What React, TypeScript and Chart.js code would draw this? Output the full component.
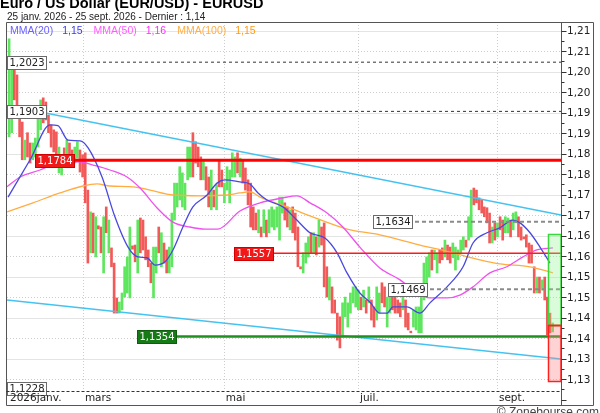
import React, { useEffect, useRef } from 'react';
import { Chart, registerables } from 'chart.js';

Chart.register(...registerables);

// ---- OHLC-style high/low bars (index = trading day) ----
const highs = [
  1.2080, 1.2024, 1.2009, 1.1992, 1.1887, 1.1877, 1.1833, 1.1851, 1.1826, 1.1826,
  1.1838, 1.1890, 1.1931, 1.1936, 1.1926, 1.1894, 1.1870, 1.1858, 1.1853, 1.1816,
  1.1789, 1.1814, 1.1833, 1.1826, 1.1809, 1.1816, 1.1829, 1.1809, 1.1797, 1.1802,
  1.1711, 1.1658, 1.1655, 1.1646, 1.1624, 1.1621, 1.1646, 1.1670, 1.1638, 1.1570,
  1.1533, 1.1448, 1.1438, 1.1460, 1.1524, 1.1548, 1.1621, 1.1575, 1.1577, 1.1638,
  1.1643, 1.1638, 1.1597, 1.1565, 1.1533, 1.1572, 1.1572, 1.1621, 1.1607, 1.1582,
  1.1565, 1.1572, 1.1655, 1.1728, 1.1728, 1.1768, 1.1753, 1.1728, 1.1816, 1.1816,
  1.1851, 1.1829, 1.1816, 1.1792, 1.1785, 1.1768, 1.1743, 1.1760, 1.1711, 1.1724,
  1.1785, 1.1760, 1.1728, 1.1768, 1.1760, 1.1802, 1.1792, 1.1802, 1.1789, 1.1785,
  1.1765, 1.1736, 1.1728, 1.1670, 1.1655, 1.1663, 1.1621, 1.1663, 1.1638, 1.1663,
  1.1670, 1.1663, 1.1670, 1.1694, 1.1694, 1.1680, 1.1670, 1.1663, 1.1670, 1.1655,
  1.1621, 1.1524, 1.1558, 1.1582, 1.1597, 1.1607, 1.1607, 1.1597, 1.1638, 1.1621,
  1.1631, 1.1524, 1.1499, 1.1475, 1.1443, 1.1411, 1.1402, 1.1436, 1.1450, 1.1436,
  1.1460, 1.1475, 1.1475, 1.1467, 1.1450, 1.1467, 1.1443, 1.1475, 1.1443, 1.1426,
  1.1475, 1.1460, 1.1485, 1.1475, 1.1450, 1.1460, 1.1460, 1.1450, 1.1443, 1.1436,
  1.1460, 1.1443, 1.1411, 1.1367, 1.1419, 1.1426, 1.1426, 1.1467, 1.1533, 1.1548,
  1.1558, 1.1565, 1.1565, 1.1558, 1.1565, 1.1570, 1.1589, 1.1577, 1.1572, 1.1582,
  1.1572, 1.1565, 1.1589, 1.1597, 1.1589, 1.1646, 1.1711, 1.1716, 1.1711, 1.1692,
  1.1687, 1.1670, 1.1668, 1.1655, 1.1621, 1.1631, 1.1631, 1.1646, 1.1638, 1.1646,
  1.1643, 1.1638, 1.1655, 1.1658, 1.1646, 1.1621, 1.1597, 1.1602, 1.1582, 1.1577,
  1.1524, 1.1499, 1.1499, 1.1492, 1.1499, 1.1450, 1.1411, 1.1387,
];

const lows = [
  1.1841, 1.1851, 1.1931, 1.1914, 1.1841, 1.1785, 1.1785, 1.1792, 1.1777, 1.1785,
  1.1792, 1.1816, 1.1858, 1.1875, 1.1882, 1.1851, 1.1816, 1.1804, 1.1768, 1.1753,
  1.1748, 1.1772, 1.1785, 1.1777, 1.1768, 1.1777, 1.1789, 1.1755, 1.1743, 1.1680,
  1.1533, 1.1558, 1.1558, 1.1548, 1.1616, 1.1558, 1.1509, 1.1607, 1.1558, 1.1524,
  1.1411, 1.1411, 1.1411, 1.1419, 1.1450, 1.1460, 1.1448, 1.1567, 1.1536, 1.1509,
  1.1558, 1.1565, 1.1541, 1.1524, 1.1485, 1.1448, 1.1509, 1.1558, 1.1524, 1.1533,
  1.1509, 1.1509, 1.1524, 1.1638, 1.1670, 1.1687, 1.1670, 1.1663, 1.1736, 1.1743,
  1.1743, 1.1777, 1.1768, 1.1736, 1.1736, 1.1711, 1.1670, 1.1663, 1.1670, 1.1663,
  1.1719, 1.1719, 1.1680, 1.1711, 1.1680, 1.1743, 1.1743, 1.1753, 1.1743, 1.1728,
  1.1711, 1.1675, 1.1621, 1.1614, 1.1614, 1.1607, 1.1597, 1.1607, 1.1597, 1.1607,
  1.1621, 1.1614, 1.1621, 1.1589, 1.1655, 1.1638, 1.1621, 1.1614, 1.1607, 1.1589,
  1.1524, 1.1519, 1.1509, 1.1533, 1.1548, 1.1558, 1.1558, 1.1553, 1.1572, 1.1577,
  1.1475, 1.1450, 1.1443, 1.1411, 1.1411, 1.1345, 1.1326, 1.1353, 1.1402, 1.1377,
  1.1411, 1.1436, 1.1426, 1.1419, 1.1419, 1.1426, 1.1411, 1.1436, 1.1394, 1.1377,
  1.1394, 1.1411, 1.1436, 1.1426, 1.1377, 1.1411, 1.1419, 1.1411, 1.1411, 1.1402,
  1.1419, 1.1377, 1.1370, 1.1363, 1.1377, 1.1370, 1.1363, 1.1363, 1.1443, 1.1467,
  1.1499, 1.1516, 1.1541, 1.1509, 1.1533, 1.1541, 1.1548, 1.1541, 1.1533, 1.1546,
  1.1516, 1.1541, 1.1558, 1.1565, 1.1572, 1.1589, 1.1597, 1.1675, 1.1680, 1.1663,
  1.1655, 1.1646, 1.1631, 1.1582, 1.1582, 1.1589, 1.1597, 1.1614, 1.1589, 1.1607,
  1.1607, 1.1597, 1.1614, 1.1631, 1.1597, 1.1589, 1.1592, 1.1572, 1.1533, 1.1533,
  1.1460, 1.1460, 1.1460, 1.1467, 1.1443, 1.1358, 1.1363, 1.1365,
];

// 1 = up bar (green), 0 = down bar (red)
const ups = [
  1, 1, 0, 0, 0, 0, 1, 0, 0, 1,
  1, 1, 1, 0, 0, 0, 0, 0, 0, 1,
  1, 0, 1, 0, 0, 1, 1, 0, 0, 0,
  0, 1, 0, 1, 0, 0, 1, 0, 1, 0,
  0, 0, 1, 1, 1, 1, 1, 0, 0, 1,
  0, 0, 0, 0, 0, 1, 1, 0, 1, 0,
  0, 1, 1, 1, 1, 1, 1, 1, 1, 1,
  0, 0, 0, 0, 1, 0, 0, 1, 0, 1,
  0, 0, 1, 1, 1, 1, 1, 0, 1, 0,
  0, 0, 0, 0, 0, 1, 0, 1, 0, 1,
  1, 1, 1, 1, 1, 0, 0, 1, 0, 0,
  0, 0, 1, 1, 1, 0, 1, 0, 1, 0,
  0, 0, 1, 0, 0, 0, 0, 1, 1, 1,
  1, 1, 1, 1, 0, 1, 0, 1, 0, 0,
  1, 1, 0, 0, 1, 1, 0, 0, 0, 0,
  1, 0, 0, 0, 1, 1, 1, 1, 1, 1,
  1, 0, 1, 1, 0, 0, 1, 0, 0, 1,
  1, 1, 1, 1, 0, 1, 1, 0, 0, 0,
  0, 0, 0, 0, 1, 0, 1, 0, 0, 1,
  1, 0, 1, 1, 0, 0, 0, 0, 0, 0,
  0, 1, 0, 1, 0, 0, 0, 1,
];

// ---- Moving averages ----
const ma20Idx = [-0.4, 8.0, 15.6, 18.6, 22.4, 27.0, 30.1, 35.4, 40.3, 45.3, 49.1, 52.5, 55.6, 59.4, 62.4, 66.2, 70.0, 75.4, 79.2, 82.2, 87.9, 91.7, 94.8, 98.2, 104.3, 109.6, 114.6, 120.3, 124.9, 128.7, 133.6, 137.4, 141.2, 143.9, 146.2, 151.5, 156.5, 160.3, 166.8, 172.9, 176.7, 182.0, 186.9, 191.9, 194.6, 198.4, 202.2, 206.0];
const ma20Val = [1.1694, 1.1785, 1.1870, 1.1868, 1.1833, 1.1831, 1.1814, 1.1743, 1.1646, 1.1572, 1.1548, 1.1546, 1.1528, 1.1536, 1.1565, 1.1621, 1.1670, 1.1699, 1.1728, 1.1736, 1.1731, 1.1726, 1.1704, 1.1687, 1.1670, 1.1638, 1.1607, 1.1594, 1.1558, 1.1509, 1.1460, 1.1438, 1.1411, 1.1411, 1.1426, 1.1426, 1.1411, 1.1436, 1.1475, 1.1524, 1.1582, 1.1607, 1.1619, 1.1638, 1.1631, 1.1607, 1.1572, 1.1533];

const ma50Idx = [-0.8, 4.2, 11.8, 18.2, 27.0, 32.0, 38.4, 44.9, 49.9, 56.3, 62.4, 68.9, 74.6, 79.5, 87.9, 95.6, 104.3, 109.6, 114.6, 121.1, 127.1, 133.6, 141.2, 148.9, 155.3, 160.3, 166.8, 171.7, 176.7, 183.1, 189.6, 195.7, 201.0, 207.1];
const ma50Val = [1.1719, 1.1743, 1.1760, 1.1777, 1.1780, 1.1772, 1.1760, 1.1743, 1.1716, 1.1668, 1.1633, 1.1621, 1.1616, 1.1616, 1.1660, 1.1680, 1.1692, 1.1697, 1.1680, 1.1655, 1.1621, 1.1572, 1.1521, 1.1492, 1.1460, 1.1448, 1.1448, 1.1455, 1.1475, 1.1509, 1.1524, 1.1548, 1.1565, 1.1570];

const ma100Idx = [-0.8, 9.1, 19.4, 28.1, 33.5, 38.4, 47.2, 53.7, 62.4, 72.7, 83.0, 87.9, 91.7, 95.6, 100.5, 105.8, 114.6, 128.7, 141.2, 156.5, 167.9, 179.3, 186.9, 198.4, 207.1];
const ma100Val = [1.1658, 1.1680, 1.1704, 1.1721, 1.1726, 1.1721, 1.1719, 1.1711, 1.1699, 1.1697, 1.1699, 1.1704, 1.1707, 1.1694, 1.1682, 1.1670, 1.1648, 1.1616, 1.1602, 1.1577, 1.1560, 1.1541, 1.1531, 1.1524, 1.1509];

const legendNames = ['MMA(20)', 'MMA(50)', 'MMA(100)'];
const legendValues = ['1,15', '1,16', '1,15'];

// ---- Trend channel ----
const trendUpperIdx = [0.3, 210.2];
const trendUpperVal = [1.1916, 1.1650];
const trendLowerIdx = [-0.8, 210.2];
const trendLowerVal = [1.1443, 1.1299];

// ---- Horizontal levels ----
const levelValues = [1.2023, 1.1903, 1.1784, 1.1634, 1.1557, 1.1469, 1.1354, 1.1228];
const levelLabels = ['1,2023', '1,1903', '1,1784', '1,1634', '1,1557', '1,1469', '1,1354', '1,1228'];
const levelStart = [-0.8, -0.8, 9.9, 138.6, 85.6, 144.3, 48.7, -0.8];
const levelKinds = ['high', 'high', 'majorRes', 'pivot', 'minorRes', 'pivot', 'support', 'low'];

// ---- Target zones at the right ----
const zoneStartIdx = 205.2;
const zoneTop = 1.1603;
const zoneNow = 1.1382;
const zoneBottom = 1.1246;

// ---- Axes ----
const monthLabels = ['2026janv.', 'mars', 'mai', 'juil.', 'sept.'];
const monthIdx = [-0.8, 28.1, 81.8, 132.9, 185.8];
const yTicks = [1.21, 1.205, 1.2, 1.195, 1.19, 1.185, 1.18, 1.175, 1.17, 1.165, 1.16, 1.155, 1.15, 1.145, 1.14, 1.135, 1.13, 1.125];
const yTickLabels = ['1,21', '1,21', '1,20', '1,20', '1,19', '1,19', '1,18', '1,18', '1,17', '1,17', '1,16', '1,16', '1,15', '1,15', '1,14', '1,14', '1,13', '1,13'];

const TITLE = 'Euro / US Dollar (EUR/USD) - EURUSD';
const SUBTITLE = '25 janv. 2026 - 25 sept. 2026 - Dernier : 1,14';
const COPYRIGHT = '\u00a9 Zonebourse.com';

const X_MIN = -0.8;
const X_MAX = 210.2;
const Y_MIN = 1.1221;
const Y_MAX = 1.2121;

const GREEN = '#5ee65e';
const RED = '#f25a5a';
const MA_COLORS = ['#4848e0', '#f050f0', '#ffad40'];
const LEGEND_NAME_COLORS = ['#6a62ff', '#ff5cff', '#ffae48'];
const LEGEND_VALUE_COLORS = ['#3a3aee', '#ff2cff', '#ff9a10'];
const CYAN = '#45c3f0';

function levelStyle(kind: string) {
  switch (kind) {
    case 'high': return { color: '#333333', width: 1, dash: [3, 3] };
    case 'majorRes': return { color: '#ff0000', width: 3, dash: [] as number[] };
    case 'minorRes': return { color: '#ff1a1a', width: 1.5, dash: [] as number[] };
    case 'pivot': return { color: '#8a8a8a', width: 2, dash: [4, 3] };
    case 'support': return { color: '#1f8f1f', width: 2.5, dash: [] as number[] };
    default: return null;
  }
}

function hline(ctx: CanvasRenderingContext2D, x1: number, x2: number, y: number) {
  ctx.beginPath(); ctx.moveTo(x1, y); ctx.lineTo(x2, y); ctx.stroke();
}
function vline(ctx: CanvasRenderingContext2D, x: number, y1: number, y2: number) {
  ctx.beginPath(); ctx.moveTo(x, y1); ctx.lineTo(x, y2); ctx.stroke();
}

const decorPlugin = {
  id: 'zbDecor',
  beforeDraw(chart: any) {
    const { ctx, width, height } = chart;
    ctx.save();
    ctx.fillStyle = '#ffffff';
    ctx.fillRect(0, 0, width, height);
    ctx.restore();
  },
  beforeDatasetsDraw(chart: any) {
    const { ctx, chartArea: a, scales } = chart;
    const xs = scales.x, ys = scales.y;
    ctx.save();
    ctx.lineWidth = 1;
    yTicks.forEach((v, k) => {
      const py = Math.round(ys.getPixelForValue(v)) + 0.5;
      if (k % 2 === 0) { ctx.strokeStyle = '#e4e4e4'; ctx.setLineDash([]); }
      else { ctx.strokeStyle = '#cdcdcd'; ctx.setLineDash([1, 2]); }
      hline(ctx, a.left, a.right, py);
    });
    ctx.strokeStyle = '#cdcdcd';
    ctx.setLineDash([1, 2]);
    monthIdx.slice(1).forEach((m) => {
      const px = Math.round(xs.getPixelForValue(m)) + 0.5;
      vline(ctx, px, a.top, a.bottom);
    });
    ctx.restore();
  },
  afterDatasetsDraw(chart: any) {
    const { ctx, chartArea: a, scales } = chart;
    const xs = scales.x, ys = scales.y;
    ctx.save();
    // target zones
    const zx = Math.round(xs.getPixelForValue(zoneStartIdx)) + 0.5;
    const zr = a.right;
    const yt = Math.round(ys.getPixelForValue(zoneTop)) + 0.5;
    const ym = Math.round(ys.getPixelForValue(zoneNow)) + 0.5;
    const yb = Math.round(ys.getPixelForValue(zoneBottom)) + 0.5;
    ctx.fillStyle = 'rgba(140, 245, 140, 0.32)';
    ctx.fillRect(zx, yt, zr - zx, ym - yt);
    ctx.fillStyle = 'rgba(255, 130, 130, 0.35)';
    ctx.fillRect(zx, ym, zr - zx, yb - ym);
    ctx.lineWidth = 1.5;
    ctx.strokeStyle = '#3ad83a';
    ctx.strokeRect(zx, yt, zr - zx, ym - yt);
    ctx.strokeStyle = '#ff2020';
    ctx.strokeRect(zx, ym, zr - zx, yb - ym);
    hline(ctx, zx, zr, ym);

    // level labels
    ctx.font = '10px "DejaVu Sans"';
    ctx.textBaseline = 'middle';
    ctx.textAlign = 'center';
    ctx.lineWidth = 1;
    levelValues.forEach((v, k) => {
      const kind = levelKinds[k];
      const py = ys.getPixelForValue(v);
      const left = (kind === 'high' || kind === 'low') ? a.left : xs.getPixelForValue(levelStart[k]);
      const w = Math.round(ctx.measureText(levelLabels[k]).width + 4);
      const h = 13;
      const bx = Math.round(left) + 0.5;
      const by = Math.round(py - h / 2) + 0.5;
      let fill = '#ffffff', stroke = '#6a6a6a', text = '#222222';
      if (kind === 'majorRes' || kind === 'minorRes') { fill = '#f01818'; stroke = '#d00000'; text = '#ffffff'; }
      if (kind === 'support') { fill = '#167a16'; stroke = '#0e5e0e'; text = '#ffffff'; }
      ctx.fillStyle = fill;
      ctx.fillRect(bx, by, w, h);
      ctx.strokeStyle = stroke;
      ctx.strokeRect(bx, by, w, h);
      ctx.fillStyle = text;
      ctx.fillText(levelLabels[k], bx + w / 2, by + h / 2 + 0.5);
    });
    ctx.restore();
  },
  afterDraw(chart: any) {
    const { ctx, chartArea: a, scales } = chart;
    const xs = scales.x, ys = scales.y;
    const outerRight = 593.5;
    const bandBottom = 405.5;
    ctx.save();
    // frame
    ctx.lineWidth = 1;
    ctx.setLineDash([]);
    ctx.strokeStyle = '#555555';
    hline(ctx, a.left - 0.5, outerRight, a.top + 0.5);
    vline(ctx, a.left - 0.5, a.top + 0.5, bandBottom);
    vline(ctx, a.right + 0.5, a.top + 0.5, bandBottom);
    vline(ctx, outerRight, a.top + 0.5, bandBottom);
    hline(ctx, a.left - 0.5, outerRight, bandBottom);
    ctx.strokeStyle = '#333333';
    ctx.setLineDash([3, 2]);
    hline(ctx, a.left - 0.5, a.right + 0.5, a.bottom + 0.5);
    ctx.setLineDash([]);

    // right axis ticks (every 0.0025)
    ctx.strokeStyle = '#333333';
    for (let k = 0; k <= 38; k++) {
      const v = 1.12 + k * 0.0025;
      const py = Math.round(ys.getPixelForValue(v)) + 0.5;
      if (py < a.top || py > bandBottom) continue;
      const len = k % 2 === 0 ? 5 : 3;
      hline(ctx, a.right + 0.5, a.right + 0.5 + len, py);
    }
    ctx.fillStyle = '#222222';
    ctx.font = '10.5px "DejaVu Sans"';
    ctx.textAlign = 'left';
    ctx.textBaseline = 'middle';
    yTicks.forEach((v, k) => {
      const py = ys.getPixelForValue(v);
      ctx.fillText(yTickLabels[k], a.right + 6, py + 1);
    });

    // x axis labels
    monthLabels.forEach((lab, k) => {
      const px = k === 0 ? a.left + 3 : xs.getPixelForValue(monthIdx[k]) + 2;
      ctx.fillText(lab, px, 398.5);
    });

    // title & subtitle
    ctx.textBaseline = 'alphabetic';
    ctx.fillStyle = '#000000';
    ctx.font = 'bold 14.5px "Liberation Sans"';
    ctx.fillText(TITLE, 0, 8);
    ctx.fillStyle = '#222222';
    ctx.font = '10px "Liberation Sans"';
    ctx.fillText(SUBTITLE, 7, 20);

    // legend
    ctx.font = '10.5px "Liberation Sans"';
    let lx = 10;
    const ly = 33.5;
    legendNames.forEach((name, k) => {
      ctx.fillStyle = LEGEND_NAME_COLORS[k];
      ctx.fillText(name, lx, ly);
      lx += ctx.measureText(name).width + 9;
      ctx.fillStyle = LEGEND_VALUE_COLORS[k];
      ctx.fillText(legendValues[k], lx, ly);
      lx += ctx.measureText(legendValues[k]).width + 11;
    });

    // copyright
    ctx.fillStyle = '#444444';
    ctx.font = '12px "Liberation Sans"';
    ctx.textAlign = 'right';
    ctx.fillText(COPYRIGHT, 599, 416);
    ctx.restore();
  },
};

export default function App() {
  const canvasRef = useRef<HTMLCanvasElement | null>(null);

  useEffect(() => {
    document.body.style.margin = '0';
    const canvas = canvasRef.current;
    if (!canvas) return;

    const datasets: any[] = [];

    levelValues.forEach((v, k) => {
      const st = levelStyle(levelKinds[k]);
      if (!st) return;
      datasets.push({
        type: 'line',
        data: [{ x: levelStart[k], y: v }, { x: X_MAX, y: v }],
        borderColor: st.color,
        borderWidth: st.width,
        borderDash: st.dash,
        pointRadius: 0,
        order: 1,
      });
    });

    datasets.push({
      type: 'line',
      data: trendUpperIdx.map((x, k) => ({ x, y: trendUpperVal[k] })),
      borderColor: CYAN, borderWidth: 1.5, pointRadius: 0, order: 2,
    });
    datasets.push({
      type: 'line',
      data: trendLowerIdx.map((x, k) => ({ x, y: trendLowerVal[k] })),
      borderColor: CYAN, borderWidth: 1.5, pointRadius: 0, order: 2,
    });

    const maSets = [[ma20Idx, ma20Val], [ma50Idx, ma50Val], [ma100Idx, ma100Val]];
    maSets.forEach(([idx, val], k) => {
      datasets.push({
        type: 'line',
        data: idx.map((x, j) => ({ x, y: val[j] })),
        borderColor: MA_COLORS[k],
        borderWidth: 1.3,
        pointRadius: 0,
        cubicInterpolationMode: 'monotone',
        order: 3 + k,
      });
    });

    datasets.push({
      type: 'bar',
      data: highs.map((h, i) => ({ x: i, y: [lows[i], h] })),
      backgroundColor: ups.map((u) => (u ? GREEN : RED)),
      borderWidth: 0,
      barThickness: 2,
      grouped: false,
      order: 10,
    });

    const chart = new Chart(canvas, {
      type: 'bar',
      data: { datasets },
      options: {
        responsive: false,
        maintainAspectRatio: false,
        animation: false,
        devicePixelRatio: 1,
        layout: { padding: { left: 7, top: 22, right: 39, bottom: 22 } },
        plugins: { legend: { display: false }, tooltip: { enabled: false }, title: { display: false } },
        scales: {
          x: { type: 'linear', min: X_MIN, max: X_MAX, display: false, offset: false },
          y: { type: 'linear', min: Y_MIN, max: Y_MAX, display: false },
        },
      } as any,
      plugins: [decorPlugin],
    });

    return () => chart.destroy();
  }, []);

  return (
    <div style={{ position: 'absolute', left: 0, top: 0, width: 600, height: 413 }}>
      <canvas ref={canvasRef} width={600} height={413} style={{ width: 600, height: 413, display: 'block' }} />
    </div>
  );
}
